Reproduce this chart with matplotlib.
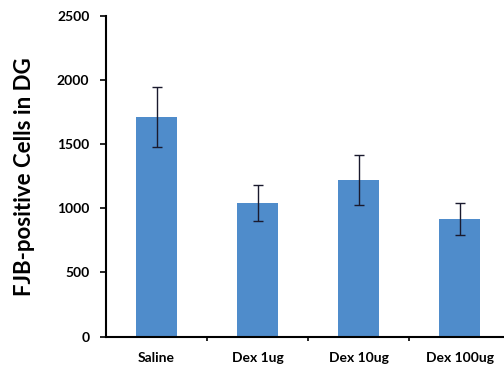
import numpy as np
from matplotlib import pyplot as plt

# FJB-positive cell counts in the dentate gyrus
groups = ["Saline", "Dex 1ug", "Dex 10ug", "Dex 100ug"]
means = [1710, 1040, 1220, 915]
errors = [233, 140, 193, 125]

y_ticks = [0, 500, 1000, 1500, 2000, 2500]

fig = plt.figure(figsize=(5.04, 3.66), dpi=100)
ax = fig.add_axes([106 / 504, 1 - 336.5 / 366, 398 / 504, 320.5 / 366])

x = np.arange(len(groups))
ax.bar(x, means, width=0.41, color="#4f8ccb", zorder=2)
ax.errorbar(
    x, means, yerr=errors, fmt="none", ecolor="#1a1a2e", elinewidth=1, capsize=3.5, capthick=1, zorder=3
)

ax.set_xlim(-0.5, 3.44)
ax.set_ylim(0, 2500)

ax.set_yticks(y_ticks)
ax.set_yticklabels([str(v) for v in y_ticks], fontfamily="Lato", fontweight="bold", fontsize=10)
ax.set_xticks(x)
ax.set_xticklabels(groups, fontfamily="Lato", fontweight="bold", fontsize=10)
ax.tick_params(axis="x", which="major", length=0, pad=11)
ax.set_xticks(np.arange(0.5, len(groups) - 0.5, 1), minor=True)
ax.tick_params(axis="x", which="minor", length=3, width=1.2, direction="out")
ax.tick_params(axis="y", length=4, width=1.2, direction="out", pad=8)

ax.spines["top"].set_visible(False)
ax.spines["right"].set_visible(False)
ax.spines["left"].set_linewidth(1.5)
ax.spines["bottom"].set_linewidth(1.5)

ax.set_ylabel("FJB-positive Cells in DG", fontfamily="Lato", fontweight="bold", fontsize=16, labelpad=16)

fig.savefig("out.png", dpi=100)
